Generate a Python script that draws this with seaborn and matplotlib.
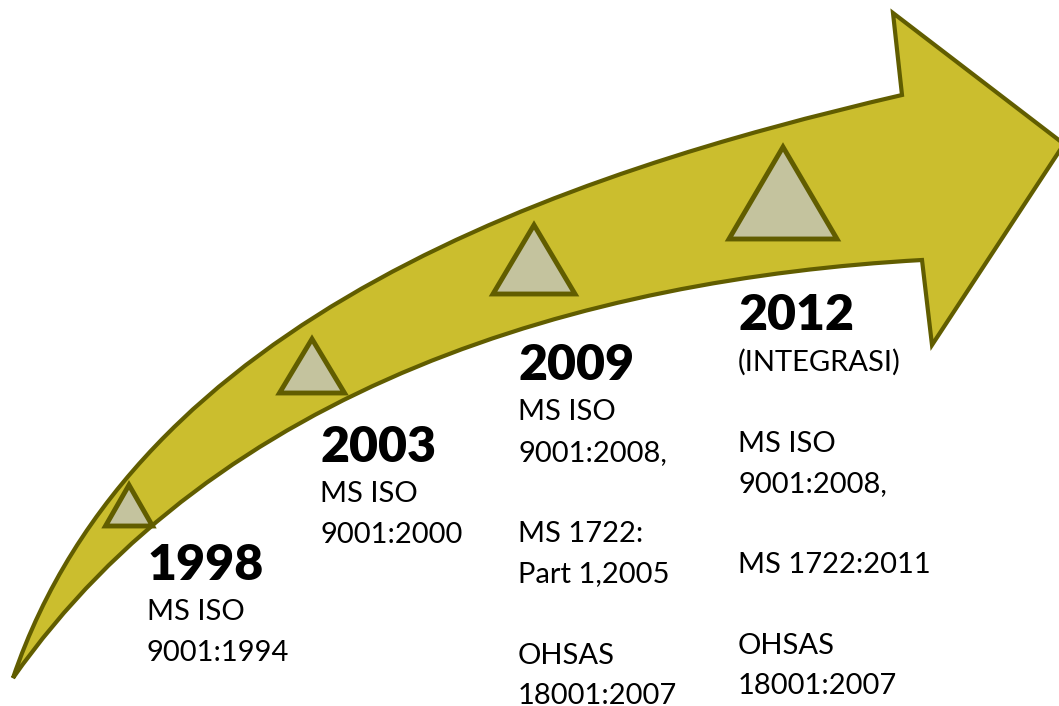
"""Timeline arrow: quality-standard milestones (1998-2012)."""

import matplotlib
matplotlib.use("Agg")
import matplotlib.pyplot as plt
from matplotlib.path import Path
from matplotlib.patches import PathPatch
import numpy as np
import seaborn as sns

# milestone data
years = ["1998", "2003", "2009", "2012"]
notes = [
    ["MS ISO", "9001:1994"],
    ["MS ISO", "9001:2000"],
    ["MS ISO", "9001:2008,", "", "MS 1722:", "Part 1,2005", "", "OHSAS", "18001:2007"],
    ["(INTEGRASI)", "", "MS ISO", "9001:2008,", "", "MS 1722:2011", "", "OHSAS", "18001:2007"],
]

# layout (pixel space, y downwards)
text_x = [147, 320, 518, 738]
year_base = [580, 462, 380, 330]
line_step = 40.5
tri_cx = [129, 312, 534, 783]
tri_base = [526, 393, 294, 239]
tri_w = [47, 65, 82, 108]
tri_h = [41, 54, 69, 92]

# arrow outline, traced from tail to head
upper_x = [13, 33, 67, 128, 200, 313, 447, 580, 760, 902]
upper_y = [678, 613, 556, 483, 403, 317, 247, 187, 130, 95]
lower_x = [13, 50, 100, 153, 200, 260, 347, 413, 480, 547, 660, 760, 922]
lower_y = [678, 628, 577, 525, 487, 450, 397, 367, 340, 320, 297, 277, 260]
head_x = [893, 1064, 932]
head_y = [13, 144, 345]

ARROW_FILL = "#CBBE2E"
ARROW_EDGE = "#615D00"
TRI_FILL = "#C4C39E"


def fit_cubic(xs, ys):
    """Least-squares cubic Bezier through the traced points, ends fixed."""
    p = np.column_stack([xs, ys]).astype(float)
    d = np.r_[0, np.cumsum(np.hypot(*np.diff(p, axis=0).T))]
    t = d / d[-1]
    p0, p3 = p[0], p[-1]
    for _ in range(3):
        b0, b1 = (1 - t) ** 3, 3 * t * (1 - t) ** 2
        b2, b3 = 3 * t ** 2 * (1 - t), t ** 3
        rhs = p - np.outer(b0, p0) - np.outer(b3, p3)
        ctrl, *_ = np.linalg.lstsq(np.column_stack([b1, b2]), rhs, rcond=None)
        c1, c2 = ctrl
        # reproject parameters onto the fitted curve
        tt = np.linspace(0, 1, 2000)
        curve = (np.outer((1 - tt) ** 3, p0) + np.outer(3 * tt * (1 - tt) ** 2, c1)
                 + np.outer(3 * tt ** 2 * (1 - tt), c2) + np.outer(tt ** 3, p3))
        t = tt[np.argmin(((curve[None] - p[:, None]) ** 2).sum(-1), axis=1)]
    return [tuple(c1), tuple(c2), tuple(p3)]


sns.set_theme(style="white")
plt.rcParams["font.family"] = ["Lato", "DejaVu Sans"]

fig = plt.figure(figsize=(10.59, 7.06), dpi=100)
ax = fig.add_axes([0, 0, 1, 1])
ax.set_xlim(0, 1059)
ax.set_ylim(706, 0)
ax.axis("off")

# curved arrow body + head
up = fit_cubic(upper_x, upper_y)
low = fit_cubic(lower_x[::-1], lower_y[::-1])
verts = [(upper_x[0], upper_y[0])] + up
codes = [Path.MOVETO] + [Path.CURVE4] * 3
verts += list(zip(head_x, head_y)) + [(lower_x[-1], lower_y[-1])]
codes += [Path.LINETO] * 4
verts += low + [(upper_x[0], upper_y[0])]
codes += [Path.CURVE4] * 3 + [Path.CLOSEPOLY]
ax.add_patch(PathPatch(Path(verts, codes), facecolor=ARROW_FILL,
                       edgecolor=ARROW_EDGE, linewidth=3, joinstyle="miter"))

# triangles on the arrow
for cx, by, w, h in zip(tri_cx, tri_base, tri_w, tri_h):
    ax.fill([cx - w / 2, cx + w / 2, cx], [by, by, by - h],
            facecolor=TRI_FILL, edgecolor=ARROW_EDGE, linewidth=3.5,
            joinstyle="miter", zorder=3)

# labels
for x, yb, year, lines in zip(text_x, year_base, years, notes):
    ax.text(x, yb, year, fontsize=36, fontweight="heavy", color="black",
            va="baseline", ha="left")
    for i, line in enumerate(lines):
        if line:
            ax.text(x, yb + line_step * (i + 1), line, fontsize=21,
                    color="black", va="baseline", ha="left")

fig.savefig("out.png", dpi=100)
plt.close(fig)
